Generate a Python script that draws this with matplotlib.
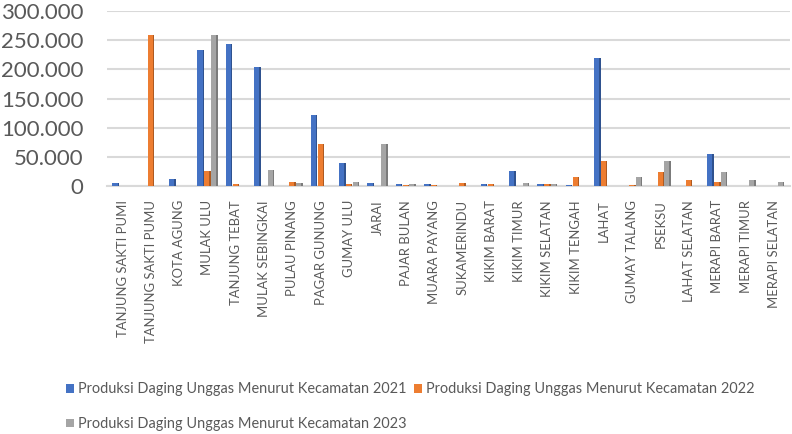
import matplotlib
matplotlib.use("Agg")
import matplotlib.pyplot as plt
from matplotlib.patches import Patch
import numpy as np

categories = ["TANJUNG SAKTI PUMI", "TANJUNG SAKTI PUMU", "KOTA AGUNG", "MULAK ULU",
              "TANJUNG TEBAT", "MULAK SEBINGKAI", "PULAU PINANG", "PAGAR GUNUNG",
              "GUMAY ULU", "JARAI", "PAJAR BULAN", "MUARA PAYANG", "SUKAMERINDU",
              "KIKIM BARAT", "KIKIM TIMUR", "KIKIM SELATAN", "KIKIM TENGAH", "LAHAT",
              "GUMAY TALANG", "PSEKSU", "LAHAT SELATAN", "MERAPI BARAT", "MERAPI TIMUR",
              "MERAPI SELATAN"]
v2021 = [5700, 500, 13000, 233000, 244000, 204000, 1000, 121000, 39000, 6000, 3000, 3000,
         1000, 3000, 26000, 3000, 2000, 219000, 1000, 500, 1000, 55000, 500, 500]
v2022 = [500, 259000, 500, 26000, 4500, 500, 8000, 73000, 4000, 500, 2000, 2000,
         5000, 3500, 500, 3000, 15000, 43000, 2000, 24000, 10000, 8000, 1000, 1000]
v2023 = [500, 500, 500, 259000, 500, 28000, 5500, 500, 8000, 73000, 3000, 1000,
         1000, 1000, 5000, 4000, 1000, 1000, 15000, 43000, 1000, 24000, 10000, 8000]
series_names = ["Produksi Daging Unggas Menurut Kecamatan 2021",
                "Produksi Daging Unggas Menurut Kecamatan 2022",
                "Produksi Daging Unggas Menurut Kecamatan 2023"]
yticks = [0, 50000, 100000, 150000, 200000, 250000, 300000]
ytick_labels = ["0", "50.000", "100.000", "150.000", "200.000", "250.000", "300.000"]

colors = ["#4472C4", "#ED7D31", "#A5A5A5"]
dark = ["#2F528F", "#AE5A21", "#7B7B7B"]

plt.rcParams['font.family'] = ['Lato', 'DejaVu Sans']

fig = plt.figure(figsize=(7.92, 4.34), dpi=100)
ax = fig.add_axes([0.135, 0.571, 0.862, 0.404])

x = np.arange(len(categories))
w = 0.24
for i, vals in enumerate([v2021, v2022, v2023]):
    pos = x + (i - 1) * w
    ax.bar(pos, vals, width=w * 0.95, color=colors[i], zorder=3 + i)
    ax.bar(pos + w * 0.38, vals, width=w * 0.2, color=dark[i], zorder=3 + i)

ax.set_xlim(-0.55, len(categories) - 0.45)
ax.set_ylim(0, 300000)
ax.set_yticks(yticks)
ax.set_yticklabels(ytick_labels, fontsize=16, color="#595959")
ax.set_xticks(x)
ax.set_xticklabels(categories, rotation=90, fontsize=9.4, color="#595959")
ax.tick_params(axis='x', length=0, pad=10)
ax.tick_params(axis='y', length=0, pad=17)
ax.grid(axis='y', color="#D9D9D9", linewidth=1.5, zorder=0)
for s in ["top", "right", "left"]:
    ax.spines[s].set_visible(False)
ax.spines["bottom"].set_color("#D9D9D9")
ax.spines["bottom"].set_linewidth(1.5)

handles = [Patch(facecolor=c, edgecolor='none') for c in colors]
order = [0, 2, 1]
leg = fig.legend([handles[k] for k in order], [series_names[k] for k in order],
                 loc='lower left', bbox_to_anchor=(0.0672, -0.0235),
                 ncol=2, frameon=False, labelcolor="#595959", fontsize=10.47,
                 handlelength=0.55, handleheight=0.55, handletextpad=0.28,
                 columnspacing=0.5, labelspacing=1.43)

fig.savefig("out.png", dpi=100)
